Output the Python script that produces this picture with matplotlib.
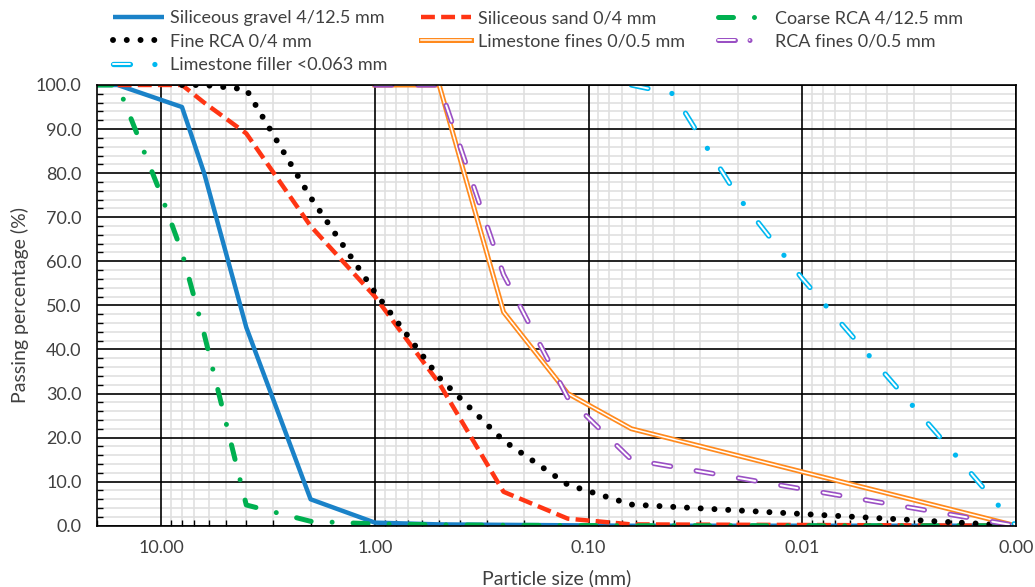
import matplotlib
matplotlib.use('Agg')
import matplotlib.pyplot as plt
from matplotlib.lines import Line2D
from matplotlib.ticker import FixedLocator, LogLocator, MultipleLocator, FormatStrFormatter, NullFormatter

plt.rcParams['font.family'] = ['Lato', 'DejaVu Sans']
plt.rcParams['lines.scale_dashes'] = False

# ---------------- data ----------------
gravel_size = [20, 16, 8, 6.3, 4, 2, 1, 0.5, 0.063, 0.001]
gravel_pass = [100, 100, 95, 80, 45, 6, 0.7, 0.3, 0.0, 0.0]

sand_size = [16, 8, 6.3, 4, 2, 1, 0.5, 0.25, 0.125, 0.063, 0.001]
sand_pass = [100, 100, 96, 89, 68, 52, 32.3, 7.7, 1.6, 0.3, 0.0]

coarse_size = [20, 16, 10, 8, 6.3, 4, 2, 1, 0.5, 0.25, 0.063, 0.001]
coarse_pass = [100, 100, 75, 62, 43.5, 4.7, 1.0, 0.4, 0.2, 0.1, 0.0, 0.0]

fine_size = [8, 6.3, 4, 2, 1, 0.5, 0.25, 0.125, 0.063, 0.001]
fine_pass = [100, 100, 99, 74.5, 53, 33.6, 19.3, 9.3, 4.8, 0.0]

limef_size = [1, 0.5, 0.25, 0.125, 0.063, 0.001]
limef_pass = [100, 100, 48.5, 30, 22, 0]

rcaf_size = [1, 0.5, 0.25, 0.125, 0.063, 0.001]
rcaf_pass = [100, 100, 57, 29, 15, 0]

filler_size = [0.063, 0.04, 0.03, 0.02, 0.01, 0.005, 0.002, 0.001]
filler_pass = [100, 98, 88.2, 74.7, 56.1, 39.3, 17.1, 0]

labels = ["Siliceous gravel 4/12.5 mm", "Siliceous sand 0/4 mm", "Coarse RCA 4/12.5 mm",
          "Fine RCA 0/4 mm", "Limestone fines 0/0.5 mm", "RCA fines 0/0.5 mm",
          "Limestone filler <0.063 mm"]

x_ticks = [10, 1, 0.1, 0.01, 0.001]
x_ticklabels = ["10.00", "1.00", "0.10", "0.01", "0.00"]

# ---------------- colours ----------------
c_blue = '#1A82C8'
c_red = '#FF3514'
c_green = '#00B050'
c_black = '#000000'
c_orange = '#FF8A1E'
c_purple = '#9A50C4'
c_cyan = '#00B8F0'
txt = '#404040'

fig = plt.figure(figsize=(10.35, 5.87), dpi=100)
ax = fig.add_axes([0.0937, 0.1044, 0.8877, 0.7508])
ax.set_xscale('log')
ax.set_xlim(20, 0.001)
ax.set_ylim(0, 100)

# styles
st_gravel = dict(color=c_blue, lw=3.2, solid_capstyle='butt')
st_sand = dict(color=c_red, lw=3.2, dashes=(10, 4.5), dash_capstyle='butt')
st_coarse = dict(color=c_green, lw=3.6, dashes=(10.8, 15.1, 0.01, 15.1), dash_capstyle='round')
st_fine = dict(color=c_black, lw=4.3, dashes=(0.01, 9.9), dash_capstyle='round')
st_lime_o = dict(color=c_orange, lw=3.6)
st_lime_i = dict(color='white', lw=1.1)
st_rca_o = dict(color=c_purple, lw=3.8, dashes=(12.2, 18.7), dash_capstyle='round')
st_rca_i = dict(color='white', lw=1.4, dashes=(12.2, 18.7), dash_capstyle='round')
st_fil_o = dict(color=c_cyan, lw=3.8, dashes=(12.2, 17.6, 0.01, 17.6), dash_capstyle='round')
st_fil_i = dict(color='white', lw=1.4, dashes=(12.2, 17.6 + 0.01 + 17.6), dash_capstyle='round')

ax.plot(gravel_size, gravel_pass, **st_gravel)
ax.plot(sand_size, sand_pass, **st_sand)
ax.plot(coarse_size, coarse_pass, **st_coarse)
ax.plot(fine_size, fine_pass, **st_fine)
ax.plot(limef_size, limef_pass, **st_lime_o)
ax.plot(limef_size, limef_pass, **st_lime_i)
ax.plot(rcaf_size, rcaf_pass, **st_rca_o)
ax.plot(rcaf_size, rcaf_pass, **st_rca_i)
ax.plot(filler_size, filler_pass, **st_fil_o)
ax.plot(filler_size, filler_pass, **st_fil_i)

# axes
ax.xaxis.set_major_locator(FixedLocator(x_ticks))
ax.set_xticklabels(x_ticklabels)
ax.xaxis.set_minor_locator(LogLocator(base=10, subs=[2, 3, 4, 5, 6, 7, 8, 9], numticks=20))
ax.xaxis.set_minor_formatter(NullFormatter())
ax.yaxis.set_major_locator(MultipleLocator(10))
ax.yaxis.set_minor_locator(MultipleLocator(2))
ax.yaxis.set_major_formatter(FormatStrFormatter('%.1f'))

# minor grid drawn first (below), major grid on top of it
xmin_locs = [v for v in ax.xaxis.get_minorticklocs() if 0.001 < v < 20]
ymin_locs = [v for v in ax.yaxis.get_minorticklocs() if 0 < v < 100 and abs(v % 10) > 1e-6]
ax.vlines(xmin_locs, 0, 100, colors='#E0E0E0', lw=1.2, zorder=0.2)
ax.hlines(ymin_locs, 20, 0.001, colors='#E0E0E0', lw=1.2, zorder=0.2)
ax.set_axisbelow(True)
ax.grid(which='major', color='black', lw=1.2)
for s in ax.spines.values():
    s.set_color('black')
    s.set_linewidth(1.2)

ax.tick_params(which='both', direction='in', colors='black', labelcolor=txt, labelsize=13)
ax.tick_params(which='major', length=0)
ax.tick_params(which='minor', length=4, width=1)
ax.tick_params(axis='y', which='major', pad=11)
ax.tick_params(axis='x', which='major', pad=10.5)

ax.set_xlabel("Particle size (mm)", fontsize=14, color=txt, labelpad=9)
ax.set_ylabel("Passing percentage (%)", fontsize=14, color=txt, labelpad=5)

# legend handles
h_gravel = Line2D([], [], **st_gravel)
h_sand = Line2D([], [], **st_sand)
h_coarse = Line2D([], [], **st_coarse)
h_fine = Line2D([], [], **st_fine)
h_lime = (Line2D([], [], **st_lime_o), Line2D([], [], **st_lime_i))
h_rca = (Line2D([], [], color=c_purple, lw=3.6, dashes=(12.2, 10.5, 0.01, 30), dash_capstyle='round'),
         Line2D([], [], color='white', lw=1.4, dashes=(12.2, 10.5, 0.01, 30), dash_capstyle='round'))
h_fil = (Line2D([], [], **st_fil_o), Line2D([], [], **st_fil_i))

handles = [h_gravel, h_fine, h_fil, h_sand, h_lime, h_coarse, h_rca]
hlabels = [labels[0], labels[3], labels[6], labels[1], labels[4], labels[2], labels[5]]
fig.legend(handles, hlabels, ncol=3, loc='upper left', bbox_to_anchor=(113 / 1035, 1 - 10 / 587),
           frameon=False, handlelength=2.8, handletextpad=0.35, columnspacing=1.85,
           labelspacing=0.42, borderpad=0, borderaxespad=0, fontsize=13, labelcolor=txt)

fig.savefig('out.png', dpi=100)
